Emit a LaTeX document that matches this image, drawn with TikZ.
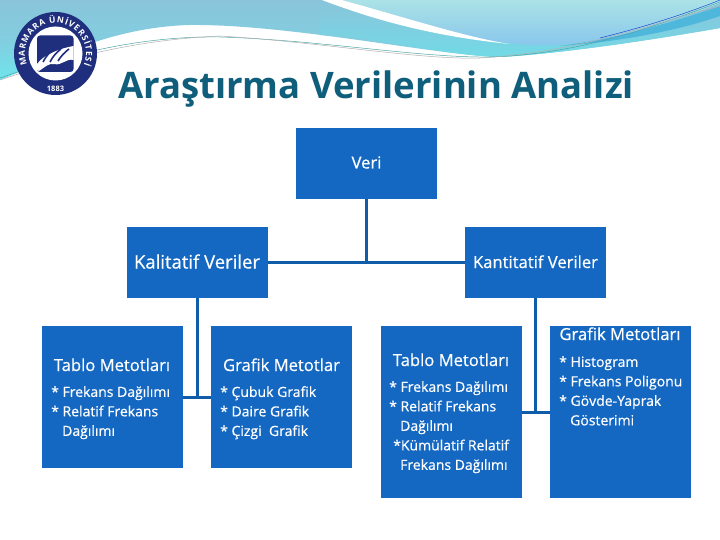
\documentclass[tikz,border=0pt]{standalone}
\usepackage{fontspec}
\usepackage{tikz}
\usetikzlibrary{decorations.text}
\setmainfont{Open Sans}
\newfontfamily\kutufont[FakeBold=0.5]{Open Sans}
\definecolor{ink}{HTML}{0F5F7C}
\definecolor{kutumavi}{HTML}{1468C2}
\definecolor{cizgi}{HTML}{0F5CA8}
\definecolor{lacivert}{HTML}{1F2F7E}
\definecolor{dalga1}{HTML}{6FE4EC}
\definecolor{dalga2}{HTML}{8AC4DA}
\definecolor{dalga3}{HTML}{ABE2E6}
\definecolor{dalga4}{HTML}{88C6EC}
\definecolor{dalga5}{HTML}{4FB6DC}
\definecolor{dalga6}{HTML}{72DAE6}
\tikzset{
  kutu/.style={fill=kutumavi,minimum width=141pt,inner sep=0pt},
  ustkutu/.style={kutu,minimum height=71pt},
  altkutu/.style={kutu,minimum height=142pt},
  yazi/.style={text=white,inner sep=0pt},
  baslikyazi/.style={yazi,anchor=base,font=\kutufont\fontsize{16.6}{16.6}\selectfont},
  liste/.style={yazi,anchor=north west,align=left,font=\kutufont\fontsize{14}{19.5}\selectfont},
  bag/.style={draw=cizgi,line width=3pt}
}
\begin{document}
\begin{tikzpicture}[x=1pt,y=-1pt]
  \useasboundingbox (0,0) rectangle (720,540);
  \fill[white] (0,0) rectangle (720,540);
  % dalgalar
  \shade[top color=dalga2,bottom color=dalga1,middle color=dalga2!70!dalga1]
    (0,0) -- (720,0) -- (720,28) .. controls (640,42) and (555,54) .. (500,57)
    .. controls (440,56) and (290,24) .. (190,25)
    .. controls (110,27) and (50,60) .. (0,80) -- cycle;
  \shade[top color=dalga2,bottom color=dalga6] (320,0) -- (720,0) -- (720,28) .. controls (640,42) and (555,54) .. (500,57)
    .. controls (460,56) and (410,45) .. (360,38) .. controls (350,37) and (340,36) .. (320,35) -- cycle;
  \fill[dalga5] (560,46) .. controls (620,38) and (680,20) .. (720,6) -- (720,16) .. controls (680,30) and (620,42) .. (560,46) -- cycle;
  \shade[top color=dalga3,bottom color=dalga4]
    (342,0) -- (720,0) -- (720,3) .. controls (650,30) and (590,46) .. (540,45)
    .. controls (470,44) and (420,22) .. (342,0) -- cycle;
  \fill[white] (322,0) -- (342,0) .. controls (420,22) and (470,38) .. (510,44)
    .. controls (450,38) and (390,26) .. (322,0) -- cycle;
  \draw[teal!70!white,line width=0.5pt] (0,78) .. controls (80,50) and (150,36) .. (220,37)
    .. controls (320,40) and (420,58) .. (490,57) .. controls (580,54) and (650,28) .. (720,2);
  \draw[gray!60!white,line width=0.5pt] (0,80) .. controls (80,53) and (150,39) .. (220,36)
    .. controls (320,42) and (420,60) .. (480,58) .. controls (580,52) and (650,24) .. (720,6);
  \draw[blue!60!teal,line width=0.4pt] (600,38) .. controls (640,28) and (680,16) .. (720,0);
  % logo
  \fill[lacivert] (55.5,53.5) circle (41.5);
  \fill[white] (55.5,53.5) circle (27);
  \path[decorate,decoration={text along path,text align={fit to path},
      text={|\fontsize{8.5}{8.5}\selectfont\bfseries\color{white}|MARMARA ÜNİVERSİTESİ}}]
    (55.5,53.5) ++(158:30.5) arc[start angle=158,end angle=382,radius=30.5];
  \node[text=white,inner sep=0pt,font=\fontsize{7.5}{7.5}\selectfont\bfseries] (yil) at (55.5,88.5) {1883};
  \fill[lacivert,rounded corners=3pt] (37,35.5) rectangle (73.5,72);
  \fill[white] (37,64) .. controls (44,54) and (62,48) .. (73.5,46) -- (73.5,60) .. controls (66,58) and (62,66) .. (54,64)
    .. controls (48,63) and (44,68) .. (39,71) -- (37,70) -- cycle;
  \draw[lacivert,line width=1.6pt] (43,62) .. controls (46,56) and (50,52) .. (53,50);
  \draw[lacivert,line width=1.6pt] (50,62) .. controls (53,56) and (57,52) .. (61,49);
  \draw[lacivert,line width=1.6pt] (58,61) .. controls (61,56) and (65,52) .. (69,49);
  % baslik
  \node[text=ink,anchor=base west,inner sep=0pt,font=\fontsize{36.5}{36.5}\selectfont\bfseries] (baslik) at (118,99)
    {Araştırma Verilerinin Analizi};
  % kutular
  \node[ustkutu] (veri) at (366.5,163.5) {};
  \node[ustkutu] (kalitatif) at (197.5,262.5) {};
  \node[ustkutu] (kantitatif) at (535.5,262.5) {};
  \node[altkutu] (tablosol) at (112.5,397) {};
  \node[altkutu] (grafiksol) at (281.5,397) {};
  \node[altkutu,minimum height=172pt] (tablosag) at (451.5,412) {};
  \node[altkutu,minimum height=172pt] (grafiksag) at (620.5,412) {};
  % baglar
  \draw[bag] (kalitatif) -- (kantitatif);
  \draw[bag] (veri) -- (veri |- kalitatif);
  \draw[bag] (kalitatif) -- (kalitatif |- tablosol);
  \draw[bag] (tablosol) -- (grafiksol);
  \draw[bag] (kantitatif) -- (kantitatif |- tablosag);
  \draw[bag] (tablosag) -- (grafiksag);
  % yazilar
  \node[baslikyazi] (verib) at (366.5,168.5) {Veri};
  \node[baslikyazi,font=\kutufont\fontsize{18.5}{18.5}\selectfont] (kalitatifb) at (197,268.5) {Kalitatif Veriler};
  \node[baslikyazi] (kantitatifb) at (535.5,268) {Kantitatif Veriler};
  \node[baslikyazi] (tablosolb) at (112,371) {Tablo Metotları};
  \node[baslikyazi] (grafiksolb) at (281.5,371) {Grafik Metotlar};
  \node[baslikyazi] (tablosagb) at (451,366) {Tablo Metotları};
  \node[baslikyazi] (grafiksagb) at (620,340) {Grafik Metotları};
  \node[liste] (tablosoll) at (51,386) {* Frekans Dağılımı\\* Relatif Frekans\\\hspace*{11pt}Dağılımı};
  \node[liste] (grafiksoll) at (220,386) {* Çubuk Grafik\\* Daire Grafik\\* Çizgi\ \ Grafik};
  \node[liste] (tablosagl) at (389,381) {* Frekans Dağılımı\\* Relatif Frekans\\\hspace*{11pt}Dağılımı\\\hspace*{4pt}*Kümülatif Relatif\\\hspace*{11pt}Frekans Dağılımı};
  \node[liste] (grafiksagl) at (559,356) {* Histogram\\* Frekans Poligonu\\* Gövde-Yaprak\\\hspace*{11pt}Gösterimi};
\end{tikzpicture}
\end{document}
